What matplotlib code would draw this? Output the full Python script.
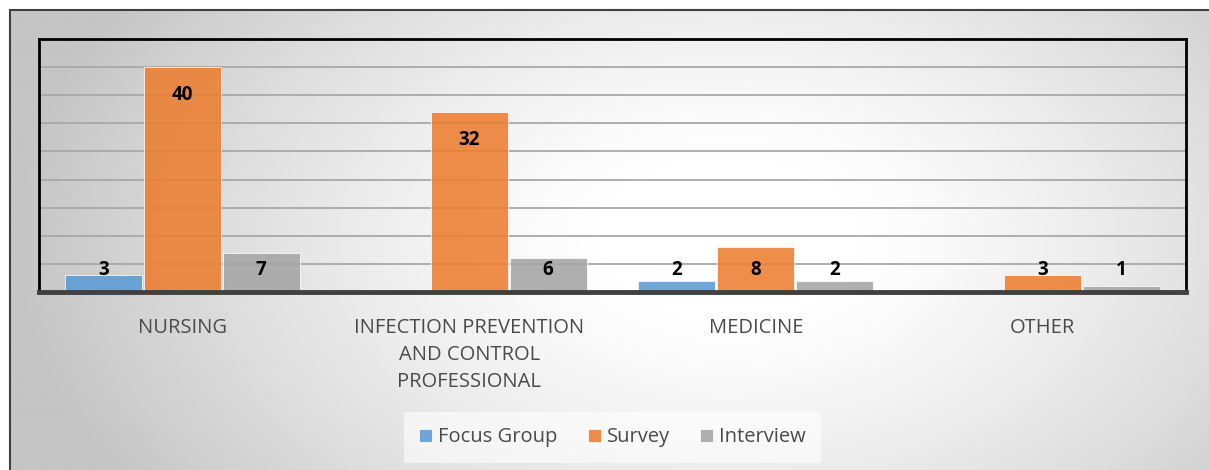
import numpy as np
import matplotlib
matplotlib.use("Agg")
import matplotlib.pyplot as plt
from matplotlib.patches import Rectangle

# data
categories = ["NURSING", "INFECTION PREVENTION\nAND CONTROL\nPROFESSIONAL", "MEDICINE", "OTHER"]
series_names = ["Focus Group", "Survey", "Interview"]
focus_group = [3, 0, 2, 0]
survey = [40, 32, 8, 3]
interview = [7, 6, 2, 1]
colors = ["#5B9BD5", "#ED7D31", "#A5A5A5"]

W, H = 1209, 470
fig = plt.figure(figsize=(W / 100, H / 100), dpi=100)
fig.patch.set_facecolor("white")

# gradient background of the chart frame
bg = fig.add_axes([9 / W, 0, 1 - 9 / W, 1 - 9 / H])
bg.set_axis_off()
xx, yy = np.meshgrid(np.linspace(0, 1, 400), np.linspace(0, 1, 200))
r = np.sqrt(((xx - 0.6) / 0.6) ** 2 + ((yy - 0.5) / 1.0) ** 2)
shade = 1 - 0.23 * np.clip((r - 0.15) / 0.85, 0, 1) ** 1.3
bg.imshow(shade, cmap="gray", vmin=0, vmax=1, extent=[0, 1, 0, 1],
          aspect="auto", origin="lower", interpolation="bicubic")
bg.set_xlim(0, 1)
bg.set_ylim(0, 1)
fig.patches.append(Rectangle((9.5 / W, -0.1), 1.2, 1 - 9.5 / H + 0.1,
                             transform=fig.transFigure, fill=False,
                             edgecolor="#404040", lw=1.5, zorder=5))

ax = fig.add_axes([39 / W, (H - 292) / H, (1186 - 39) / W, (292 - 39) / H])
ax.patch.set_alpha(0)

x = np.arange(len(categories))
w = 0.268
step = 0.2755
for i, (vals, c, name) in enumerate(zip([focus_group, survey, interview], colors, series_names)):
    pos = x + (i - 1) * step
    ax.bar(pos, vals, width=w, color=c, alpha=0.88, label=name, zorder=2,
           edgecolor="white", linewidth=0.6)
    for px, v in zip(pos, vals):
        if v == 0:
            continue
        ly = max(v - 4.9, 3.9)
        ax.text(px, ly, str(v), ha="center", va="center", fontsize=13.5,
                fontweight="bold", color="black", family="Open Sans", zorder=4)

ax.set_ylim(0, 45)
ax.set_xlim(-0.5, 3.5)
ax.set_yticks(np.arange(5, 45, 5))
ax.yaxis.grid(True, color="#a8a8a8", lw=1.3, zorder=1)
ax.set_axisbelow(True)
ax.tick_params(axis="y", length=0, labelleft=False)
ax.tick_params(axis="x", length=0, pad=19)
ax.set_xticks(x)
ax.set_xticklabels(categories, fontsize=14.5, color="#4a4a4a", family="Open Sans",
                   linespacing=1.45, va="top")
for s in ["left", "right", "top"]:
    ax.spines[s].set_color("black")
    ax.spines[s].set_linewidth(2)
ax.spines["bottom"].set_color("#404040")
ax.spines["bottom"].set_linewidth(3.5)

leg = ax.legend(loc="center", bbox_to_anchor=(0.5, -0.575), ncol=3, frameon=True,
                handlelength=0.65, handleheight=0.65, handletextpad=0.3,
                columnspacing=1.5, borderpad=0.75,
                prop={"family": "Open Sans", "size": 14.5})
leg.get_frame().set_facecolor("white")
leg.get_frame().set_alpha(0.6)
leg.get_frame().set_edgecolor("none")
leg.get_frame().set_boxstyle("square", pad=0.0)
for t in leg.get_texts():
    t.set_color("#4a4a4a")

fig.savefig("out.png", dpi=100)
